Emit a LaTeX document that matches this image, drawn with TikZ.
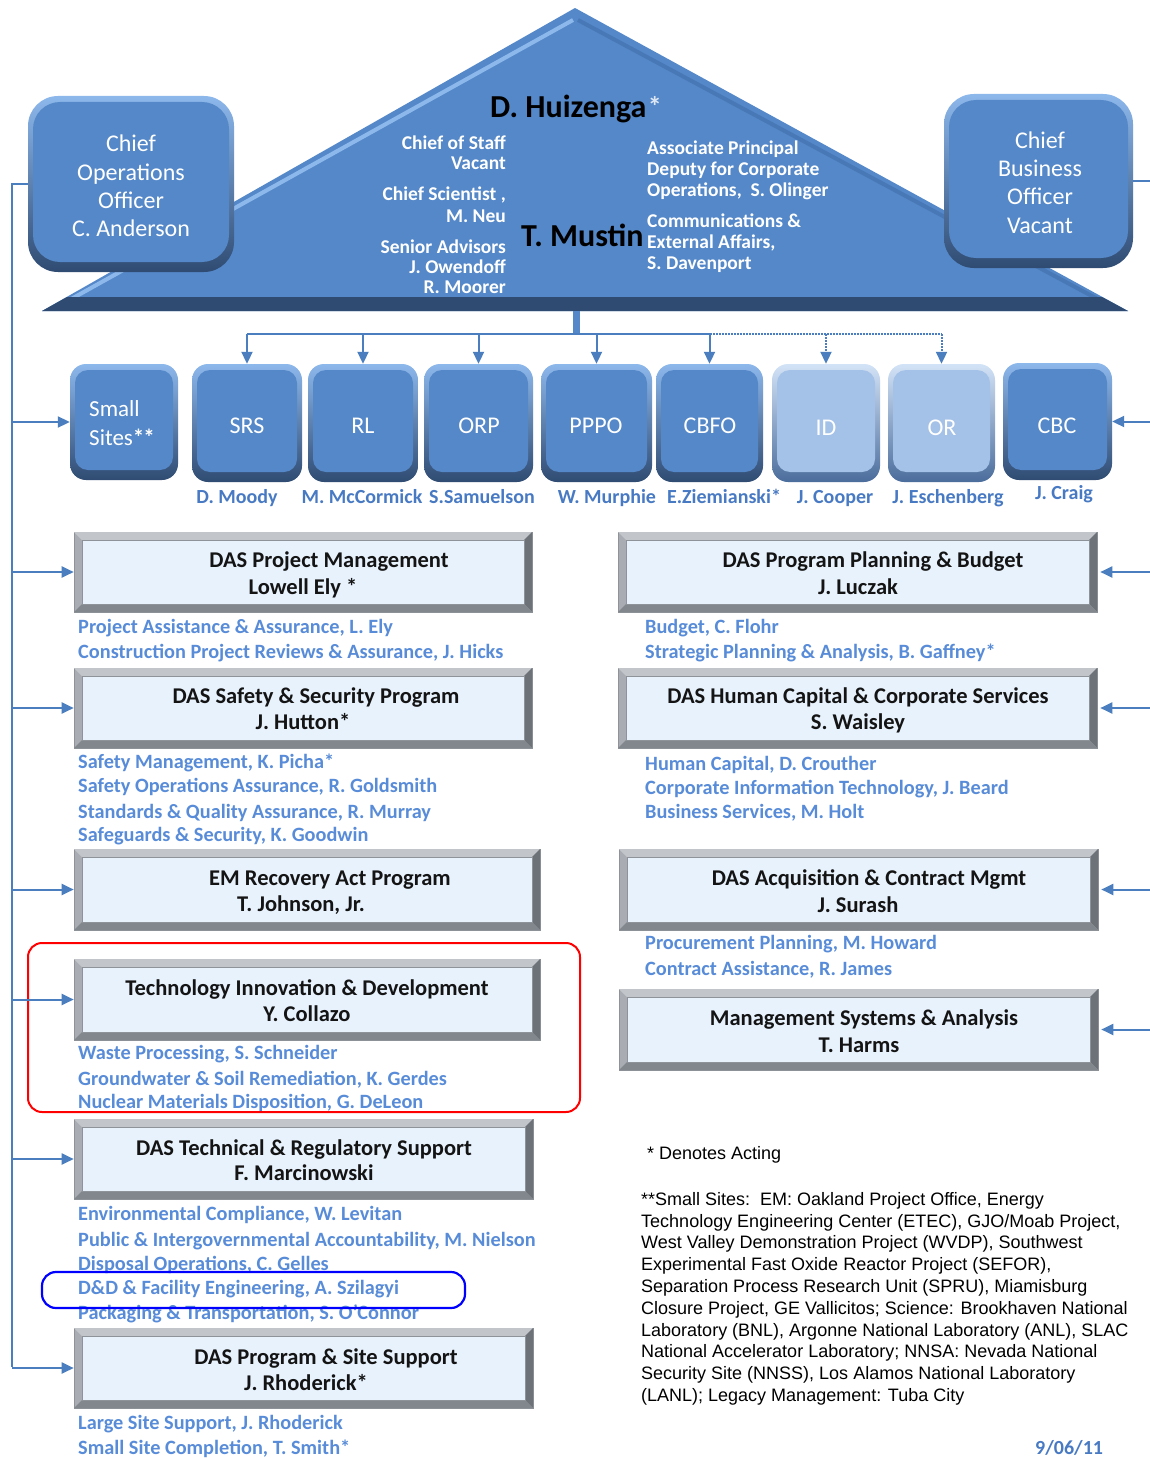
\documentclass[tikz,border=0pt]{standalone}
\usepackage{fontspec}
\setmainfont{Carlito}
\newfontfamily\arialfont{Liberation Sans}
\usetikzlibrary{arrows.meta,calc}
\definecolor{bfill}{HTML}{5588C8}
\definecolor{brim}{HTML}{8DB8EC}
\definecolor{bdark}{HTML}{2F4B72}
\definecolor{lfill}{HTML}{A4C1E7}
\definecolor{lrim}{HTML}{D3E3F7}
\definecolor{ldark}{HTML}{4B6D9C}
\definecolor{boxin}{HTML}{E8F2FD}
\definecolor{frtop}{HTML}{C2C6CB}
\definecolor{frleft}{HTML}{A9ADB3}
\definecolor{frright}{HTML}{6D7279}
\definecolor{frbot}{HTML}{82878E}
\definecolor{frline}{HTML}{8E9399}
\definecolor{subblue}{RGB}{88,140,216}
\definecolor{nameblue}{RGB}{72,122,196}
\definecolor{lineblue}{HTML}{4A7EBF}
\definecolor{triright}{HTML}{4878B6}

\newcommand\rbox[7]{% name x1 y1 x2 y2 variant radius
  \node[inner sep=0, rounded corners=#7, top color=#6rim, bottom color=#6dark,
        minimum width={(#4-#2)*1pt}, minimum height={(#5-#3)*1pt}]
        (#1) at ({(#2+#4)/2},{(#3+#5)/2}) {};
  \fill[#6fill, rounded corners={#7-3}] ({#2+5},{#3+6}) rectangle ({#4-5},{#5-10});
}
\newcommand\dasbox[5]{% name x1 y1 x2 y2
  \node[inner sep=0, fill=frleft, draw=frline, line width=0.6,
        minimum width={(#4-#2)*1pt}, minimum height={(#5-#3)*1pt}]
        (#1) at ({(#2+#4)/2},{(#3+#5)/2}) {};
  \fill[frtop] (#2,#3) -- (#4,#3) -- ({#4-8},{#3+8}) -- ({#2+8},{#3+8}) -- cycle;
  \fill[frright] (#4,#3) -- (#4,#5) -- ({#4-8},{#5-8}) -- ({#4-8},{#3+8}) -- cycle;
  \fill[frbot] (#2,#5) -- (#4,#5) -- ({#4-8},{#5-8}) -- ({#2+8},{#5-8}) -- cycle;
  \fill[boxin, draw=frline, line width=0.8] ({#2+8},{#3+8}) rectangle ({#4-8},{#5-8});
}

\begin{document}
\begin{tikzpicture}[x=1pt,y=-1pt,
  conn/.style={draw=lineblue, line width=2},
  arr/.style={conn, -{Triangle[length=12pt,width=11pt]}},
  dtext/.style={anchor=base, inner sep=0, text=black!92, font=\bfseries\fontsize{22.5}{27}\selectfont},
  sub/.style={anchor=base west, inner sep=0, text=subblue, font=\bfseries\fontsize{20.3}{24}\selectfont},
  nm/.style={anchor=base, inner sep=0, text=nameblue, font=\bfseries\fontsize{20}{24}\selectfont},
  rl/.style={anchor=base, inner sep=0, text=white, font=\fontsize{24}{29}\selectfont},
  big/.style={inner sep=0, text=white, align=center, font=\fontsize{24}{28.3}\selectfont},
  tri/.style={inner sep=0, text=white, font=\bfseries\fontsize{19.5}{20}\selectfont},
  head/.style={anchor=base west, inner sep=0, text=black, font=\bfseries\fontsize{32}{36}\selectfont}
]
\useasboundingbox (0,0) rectangle (1150,1458);
\fill[white] (0,0) rectangle (1150,1458);

% ---------- triangle ----------
\fill[bfill] (575,8) -- (1128,311) -- (42,311) -- cycle;
\draw[brim, line width=4] (573,20) -- (64,303);
\draw[triright, line width=4] (578,20) -- (1103,302);
\fill[bdark] (42,311) -- (1128,311) -- (1102,297) -- (67,297) -- cycle;
\coordinate (tri) at (576,311);
\coordinate (bus) at (576,334);

\node[head] (huiz) at (490,118) {D. Huizenga};
\node[anchor=north west, inner sep=0, text=white!80!bfill, font=\bfseries\fontsize{28}{28}\selectfont] (huizst) at ([xshift=1pt,yshift=-1pt]huiz.north east) {*};
\node[head] (mustin) at (521,246) {T. Mustin};

\node[tri, anchor=east, align=right] (cos) at (506,153) {Chief of Staff\\Vacant};
\node[tri, anchor=east, align=right, font=\bfseries\fontsize{19.5}{22}\selectfont] (csci) at (506,205) {Chief Scientist ,\\M. Neu};
\node[tri, anchor=east, align=right] (sadv) at (506,267) {Senior Advisors\\J. Owendoff\\R. Moorer};
\node[tri, anchor=west, align=left, font=\bfseries\fontsize{19.5}{21}\selectfont] (apd) at (647,170) {Associate Principal\\Deputy for Corporate\\Operations,\ \ S. Olinger};
\node[tri, anchor=west, align=left, font=\bfseries\fontsize{19.5}{21}\selectfont] (cea) at (647,243) {Communications \&\\External Affairs,\\S. Davenport};

% ---------- COO / CBO ----------
\rbox{coo}{28}{96}{234}{272}{b}{30}
\node[big] (coot) at (131,186) {Chief\\Operations\\Officer\\C. Anderson};
\rbox{cbo}{944}{94}{1133}{268}{b}{30}
\node[big] (cbot) at (1040,182.5) {Chief\\Business\\Officer\\Vacant};

% ---------- row of sites ----------
\rbox{ss}{70}{364}{178}{480}{b}{16}
\rbox{srs}{192}{364}{302}{482}{b}{16}
\rbox{rl}{308}{364}{418}{482}{b}{16}
\rbox{orp}{424}{364}{533}{482}{b}{16}
\rbox{pppo}{541}{364}{652}{482}{b}{16}
\rbox{cbfo}{656}{364}{763}{482}{b}{16}
\rbox{id}{772}{364}{880}{482}{l}{16}
\rbox{or}{888}{364}{995}{482}{l}{16}
\rbox{cbc}{1003}{363}{1112}{480}{b}{16}

\node[big, align=left, anchor=west, font=\fontsize{23}{29}\selectfont] (sst) at (89,423.5) {Small\\Sites{\bfseries*\kern-1pt*}};
\node[rl] (srst) at (247,433) {SRS};
\node[rl] (rlt) at (363,433) {RL};
\node[rl] (orpt) at (479,433) {ORP};
\node[rl] (pppot) at (596,433) {PPPO};
\node[rl] (cbfot) at (710,433) {CBFO};
\node[rl] (idt) at (826,435) {ID};
\node[rl] (ort) at (942,435) {OR};
\node[rl] (cbct) at (1057,433) {CBC};

\node[nm] (n1) at (237,503) {D. Moody};
\node[nm] (n2) at (362,503) {M. McCormick};
\node[nm] (n3) at (482,503) {S.Samuelson};
\node[nm] (n4) at (607,503) {W. Murphie};
\node[nm] (n5) at (724,503) {E.Ziemianski*};
\node[nm] (n6) at (835,503) {J. Cooper};
\node[nm] (n7) at (948,503) {J. Eschenberg};
\node[nm] (n8) at (1064,499) {J. Craig};

% ---------- bus ----------
\draw[bfill, line width=7] (tri) -- (bus);
\draw[conn] (srs.north |- bus) -- (cbfo.north |- bus);
\draw[conn, densely dotted] (cbfo.north |- bus) -- (or.north |- bus);
\draw[arr] (srs.north |- bus) -- (srs.north);
\draw[arr] (rl.north |- bus) -- (rl.north);
\draw[arr] (orp.north |- bus) -- (orp.north);
\draw[arr] (pppo.north |- bus) -- (pppo.north);
\draw[arr] (cbfo.north |- bus) -- (cbfo.north);
\draw[arr, densely dotted] (id.north |- bus) -- (id.north);
\draw[arr, densely dotted] (or.north |- bus) -- (or.north);

% ---------- left boxes ----------
\dasbox{pm}{74}{532}{532}{612}
\node[dtext] (pm1) at (329,567) {DAS Project Management};
\node[dtext] (pm2) at (303,594) {Lowell Ely *};
\node[sub] (s1) at (78,633) {Project Assistance \& Assurance, L. Ely};
\node[sub] (s2) at (78,658) {Construction Project Reviews \& Assurance, J. Hicks};

\dasbox{saf}{74}{668}{532}{748}
\node[dtext] (saf1) at (316,703) {DAS Safety \& Security Program};
\node[dtext] (saf2) at (303,729) {J. Hutton*};
\node[sub] (s3) at (78,768) {Safety Management, K. Picha*};
\node[sub] (s4) at (78,792) {Safety Operations Assurance, R. Goldsmith};
\node[sub] (s5) at (78,818) {Standards \& Quality Assurance, R. Murray};
\node[sub] (s6) at (78,841) {Safeguards \& Security, K. Goodwin};

\dasbox{em}{74}{849}{540}{930}
\node[dtext] (em1) at (330,885) {EM Recovery Act Program};
\node[dtext] (em2) at (301,911) {T. Johnson, Jr.};

\dasbox{tid}{74}{959}{540}{1040}
\node[dtext] (tid1) at (307,995) {Technology Innovation \& Development};
\node[dtext] (tid2) at (307,1021) {Y. Collazo};
\node[sub] (s7) at (78,1059) {Waste Processing, S. Schneider};
\node[sub] (s8) at (78,1085) {Groundwater \& Soil Remediation, K. Gerdes};
\node[sub] (s9) at (78,1108) {Nuclear Materials Disposition, G. DeLeon};

\dasbox{trs}{74}{1119}{533}{1199}
\node[dtext] (trs1) at (304,1155) {DAS Technical \& Regulatory Support};
\node[dtext] (trs2) at (304,1180) {F. Marcinowski};
\node[sub] (s10) at (78,1220) {Environmental Compliance, W. Levitan};
\node[sub] (s11) at (78,1246) {Public \& Intergovernmental Accountability, M. Nielson};
\node[sub] (s12) at (78,1270) {Disposal Operations, C. Gelles};
\node[sub] (s13) at (78,1294) {D\&D \& Facility Engineering, A. Szilagyi};
\node[sub] (s14) at (78,1319) {Packaging \& Transportation, S. O'Connor};

\dasbox{pss}{74}{1328}{533}{1408}
\node[dtext] (pss1) at (326,1364) {DAS Program \& Site Support};
\node[dtext] (pss2) at (306,1390) {J. Rhoderick*};
\node[sub] (s15) at (78,1429) {Large Site Support, J. Rhoderick};
\node[sub] (s16) at (78,1454) {Small Site Completion, T. Smith*};

% ---------- right boxes ----------
\dasbox{ppb}{618}{532}{1097}{612}
\node[dtext] (ppb1) at (873,567) {DAS Program Planning \& Budget};
\node[dtext] (ppb2) at (858,594) {J. Luczak};
\node[sub] (r1) at (645,633) {Budget, C. Flohr};
\node[sub] (r2) at (645,658) {Strategic Planning \& Analysis, B. Gaffney*};

\dasbox{hc}{618}{668}{1097}{748}
\node[dtext] (hc1) at (858,703) {DAS Human Capital \& Corporate Services};
\node[dtext] (hc2) at (858,729) {S. Waisley};
\node[sub] (r3) at (645,770) {Human Capital, D. Crouther};
\node[sub] (r4) at (645,794) {Corporate Information Technology, J. Beard};
\node[sub] (r5) at (645,818) {Business Services, M. Holt};

\dasbox{acq}{619}{849}{1098}{930}
\node[dtext] (acq1) at (869,885) {DAS Acquisition \& Contract Mgmt};
\node[dtext] (acq2) at (858,912) {J. Surash};
\node[sub] (r6) at (645,949) {Procurement Planning, M. Howard};
\node[sub] (r7) at (645,975) {Contract Assistance, R. James};

\dasbox{msa}{619}{989}{1098}{1070}
\node[dtext] (msa1) at (864,1025) {Management Systems \& Analysis};
\node[dtext] (msa2) at (859,1052) {T. Harms};

% ---------- highlight outlines ----------
\draw[red, line width=2, rounded corners=14] (28,943) rectangle (580,1112);
\draw[blue, line width=2.2, rounded corners=14] (42,1272) rectangle (465,1308);

% ---------- left spine ----------
\coordinate (spinebot) at (12,1367);
\draw[conn] (coo.west) -| (spinebot);
\draw[arr] (ss.west -| spinebot) -- (ss.west);
\draw[arr] (pm.west -| spinebot) -- (pm.west);
\draw[arr] (saf.west -| spinebot) -- (saf.west);
\draw[arr] (em.west -| spinebot) -- (em.west);
\draw[arr] (tid.west -| spinebot) -- (tid.west);
\draw[arr] (trs.west -| spinebot) -- (trs.west);
\draw[arr] (pss.west -| spinebot) -- (pss.west);

% ---------- right stubs ----------
\coordinate (redge) at (1150,0);
\draw[conn] (cbo.east) -- (cbo.east -| redge);
\draw[arr] (cbc.east -| redge) -- (cbc.east);
\draw[arr] (ppb.east -| redge) -- ([xshift=3pt]ppb.east);
\draw[arr] (hc.east -| redge) -- ([xshift=3pt]hc.east);
\draw[arr] (acq.east -| redge) -- ([xshift=3pt]acq.east);
\draw[arr] (msa.east -| redge) -- ([xshift=3pt]msa.east);

% ---------- footnotes ----------
\node[anchor=base west, inner sep=0, font=\arialfont\fontsize{18}{21.8}\selectfont] (acting) at (647,1159) {* Denotes Acting};
\node[anchor=north west, inner sep=0, align=left, font=\arialfont\fontsize{18}{21.8}\selectfont] (smallsites) at (641,1192)
{**Small Sites:\ \ EM: Oakland Project Office, Energy\\
Technology Engineering Center (ETEC), GJO/Moab Project,\\
West Valley Demonstration Project (WVDP), Southwest\\
Experimental Fast Oxide Reactor Project (SEFOR),\\
Separation Process Research Unit (SPRU), Miamisburg\\
Closure Project, GE Vallicitos; Science: Brookhaven National\\
Laboratory (BNL), Argonne National Laboratory (ANL), SLAC\\
National Accelerator Laboratory; NNSA: Nevada National\\
Security Site (NNSS), Los Alamos National Laboratory\\
(LANL); Legacy Management: Tuba City};
\node[anchor=base west, inner sep=0, text=nameblue, font=\bfseries\fontsize{20}{24}\selectfont] (date) at (1035,1454) {9/06/11};
\end{tikzpicture}
\end{document}
